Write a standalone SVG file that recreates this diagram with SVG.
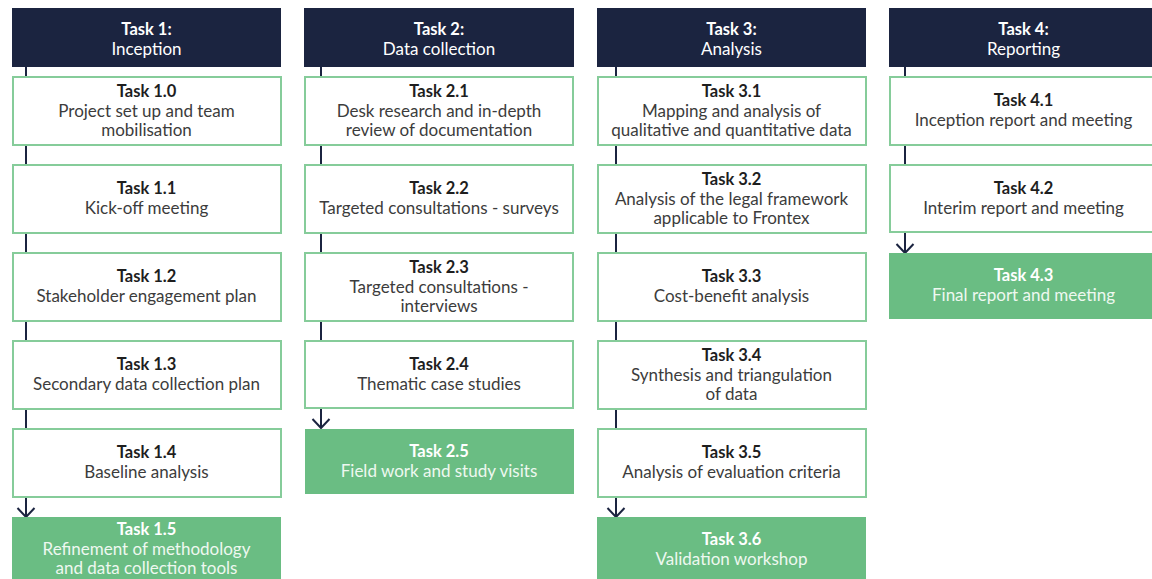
<svg xmlns="http://www.w3.org/2000/svg" width="1152" height="579" viewBox="0 0 1152 579">
<defs>
<style>
text{font-family:Lato,"Open Sans","Liberation Sans",sans-serif;text-anchor:middle}
.hd{fill:#1b2440}
.bx{fill:#ffffff;stroke:#86cc9a;stroke-width:2}
.gb{fill:#6abd83}
.t{font-size:16.5px;font-weight:bold;fill:#1e1e1e}
.b{font-size:17px;fill:#3c3c3c}
.gt{font-size:16.5px;font-weight:bold;fill:#ffffff}
.gs{font-size:17px;fill:#eef8f0}
.ht{font-size:16.5px;font-weight:bold;fill:#ffffff}
.hs{font-size:17px;fill:#ffffff}
.cn{stroke:#1b2440;stroke-width:2;fill:none}
</style>
<marker id="arr" markerUnits="userSpaceOnUse" markerWidth="12" markerHeight="20" refX="10" refY="10" orient="auto" viewBox="0 0 12 20">
<path d="M1,1.5 L10,10 L1,18.5" fill="none" stroke="#1b2440" stroke-width="2"/>
</marker>
</defs>
<rect width="1152" height="579" fill="#ffffff"/>
<g id="connectors">
<line class="cn" x1="26" y1="67" x2="26" y2="165"/>
<line class="cn" x1="26" y1="233" x2="26" y2="429"/>
<line class="cn" x1="26" y1="497" x2="26" y2="517" marker-end="url(#arr)"/>
<line class="cn" x1="321" y1="67" x2="321" y2="341"/>
<line class="cn" x1="321" y1="408" x2="321" y2="428" marker-end="url(#arr)"/>
<line class="cn" x1="616" y1="67" x2="616" y2="429"/>
<line class="cn" x1="616" y1="497" x2="616" y2="517" marker-end="url(#arr)"/>
<line class="cn" x1="905" y1="67" x2="905" y2="165"/>
<line class="cn" x1="905" y1="232" x2="905" y2="253" marker-end="url(#arr)"/>
</g>
<g id="h1" class="hd"><rect x="12" y="8" width="269" height="59"/><text class="ht" x="146.5" y="35">Task 1:</text><text class="hs" x="146.5" y="55">Inception</text></g>
<g id="h2" class="hd"><rect x="304" y="8" width="270" height="59"/><text class="ht" x="439" y="35">Task 2:</text><text class="hs" x="439" y="55">Data collection</text></g>
<g id="h3" class="hd"><rect x="597" y="8" width="269" height="59"/><text class="ht" x="731.5" y="35">Task 3:</text><text class="hs" x="731.5" y="55">Analysis</text></g>
<g id="h4" class="hd"><rect x="889" y="8" width="269" height="59"/><text class="ht" x="1023.5" y="35">Task 4:</text><text class="hs" x="1023.5" y="55">Reporting</text></g>

<g id="t10"><rect class="bx" x="13" y="77" width="268" height="68"/><text class="t" x="146.5" y="97">Task 1.0</text><text class="b" x="146.5" y="117">Project set up and team</text><text class="b" x="146.5" y="136">mobilisation</text></g>
<g id="t11"><rect class="bx" x="13" y="165" width="268" height="68"/><text class="t" x="146.5" y="194">Task 1.1</text><text class="b" x="146.5" y="214">Kick-off meeting</text></g>
<g id="t12"><rect class="bx" x="13" y="253" width="268" height="68"/><text class="t" x="146.5" y="282">Task 1.2</text><text class="b" x="146.5" y="302">Stakeholder engagement plan</text></g>
<g id="t13"><rect class="bx" x="13" y="341" width="268" height="68"/><text class="t" x="146.5" y="370">Task 1.3</text><text class="b" x="146.5" y="390">Secondary data collection plan</text></g>
<g id="t14"><rect class="bx" x="13" y="429" width="268" height="68"/><text class="t" x="146.5" y="458">Task 1.4</text><text class="b" x="146.5" y="478">Baseline analysis</text></g>
<g id="t15"><rect class="gb" x="12" y="517" width="269" height="70"/><text class="gt" x="146.5" y="535">Task 1.5</text><text class="gs" x="146.5" y="555">Refinement of methodology</text><text class="gs" x="146.5" y="574">and data collection tools</text></g>

<g id="t21"><rect class="bx" x="305" y="77" width="268" height="68"/><text class="t" x="439" y="97">Task 2.1</text><text class="b" x="439" y="117">Desk research and in-depth</text><text class="b" x="439" y="136">review of documentation</text></g>
<g id="t22"><rect class="bx" x="305" y="165" width="268" height="68"/><text class="t" x="439" y="194">Task 2.2</text><text class="b" x="439" y="214">Targeted consultations - surveys</text></g>
<g id="t23"><rect class="bx" x="305" y="253" width="268" height="68"/><text class="t" x="439" y="273">Task 2.3</text><text class="b" x="439" y="293">Targeted consultations -</text><text class="b" x="439" y="312">interviews</text></g>
<g id="t24"><rect class="bx" x="305" y="341" width="268" height="67"/><text class="t" x="439" y="370">Task 2.4</text><text class="b" x="439" y="390">Thematic case studies</text></g>
<g id="t25"><rect class="gb" x="305" y="429" width="269" height="65"/><text class="gt" x="439" y="457">Task 2.5</text><text class="gs" x="439" y="477">Field work and study visits</text></g>

<g id="t31"><rect class="bx" x="598" y="77" width="268" height="68"/><text class="t" x="731.5" y="97">Task 3.1</text><text class="b" x="731.5" y="117">Mapping and analysis of</text><text class="b" x="731.5" y="136">qualitative and quantitative data</text></g>
<g id="t32"><rect class="bx" x="598" y="165" width="268" height="68"/><text class="t" x="731.5" y="185">Task 3.2</text><text class="b" x="731.5" y="205">Analysis of the legal framework</text><text class="b" x="731.5" y="224">applicable to Frontex</text></g>
<g id="t33"><rect class="bx" x="598" y="253" width="268" height="68"/><text class="t" x="731.5" y="282">Task 3.3</text><text class="b" x="731.5" y="302">Cost-benefit analysis</text></g>
<g id="t34"><rect class="bx" x="598" y="341" width="268" height="68"/><text class="t" x="731.5" y="361">Task 3.4</text><text class="b" x="731.5" y="381">Synthesis and triangulation</text><text class="b" x="731.5" y="400">of data</text></g>
<g id="t35"><rect class="bx" x="598" y="429" width="268" height="68"/><text class="t" x="731.5" y="458">Task 3.5</text><text class="b" x="731.5" y="478">Analysis of evaluation criteria</text></g>
<g id="t36"><rect class="gb" x="597" y="517" width="269" height="70"/><text class="gt" x="731.5" y="545">Task 3.6</text><text class="gs" x="731.5" y="565">Validation workshop</text></g>

<g id="t41"><rect class="bx" x="890" y="77" width="268" height="68"/><text class="t" x="1023.5" y="106">Task 4.1</text><text class="b" x="1023.5" y="126">Inception report and meeting</text></g>
<g id="t42"><rect class="bx" x="890" y="165" width="268" height="67"/><text class="t" x="1023.5" y="194">Task 4.2</text><text class="b" x="1023.5" y="214">Interim report and meeting</text></g>
<g id="t43"><rect class="gb" x="889" y="253" width="269" height="66"/><text class="gt" x="1023.5" y="281">Task 4.3</text><text class="gs" x="1023.5" y="301">Final report and meeting</text></g>
</svg>
